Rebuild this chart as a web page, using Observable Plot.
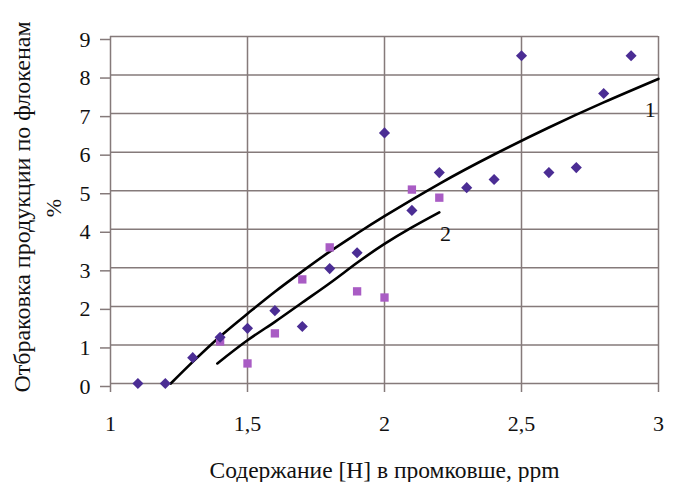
<!DOCTYPE html>
<html>
<head>
<meta charset="utf-8">
<script src="https://cdn.jsdelivr.net/npm/d3@7"></script>
<script src="https://cdn.jsdelivr.net/npm/@observablehq/plot@0.6"></script>
<style>
  html, body { margin: 0; padding: 0; background: #fff; }
  #chart { width: 677px; height: 482px; }
</style>
</head>
<body>
<div id="chart"></div>
<script>
// Series 1 (diamonds)
const s1X = [1.1, 1.2, 1.3, 1.4, 1.5, 1.6, 1.7, 1.8, 1.9, 2.0, 2.1, 2.2, 2.3, 2.4, 2.5, 2.6, 2.7, 2.8, 2.9];
const s1Y = [0, 0, 0.67, 1.2, 1.43, 1.89, 1.48, 2.98, 3.39, 6.5, 4.49, 5.47, 5.08, 5.29, 8.5, 5.47, 5.6, 7.52, 8.5];
// Series 2 (squares)
const s2X = [1.4, 1.5, 1.6, 1.7, 1.8, 1.9, 2.0, 2.1, 2.2];
const s2Y = [1.09, 0.52, 1.3, 2.7, 3.53, 2.39, 2.23, 5.03, 4.82];
// Trend curve 1
const c1X = [1.22, 1.3, 1.4, 1.5, 1.6, 1.7, 1.8, 1.9, 2.0, 2.2, 2.4, 2.6, 2.8, 3.0];
const c1Y = [0, 0.56, 1.22, 1.81, 2.38, 2.91, 3.42, 3.89, 4.34, 5.18, 5.94, 6.64, 7.29, 7.9];
// Trend curve 2
const c2X = [1.39, 1.5, 1.6, 1.7, 1.8, 1.9, 2.0, 2.1, 2.2];
const c2Y = [0.52, 1.12, 1.6, 2.1, 2.6, 3.13, 3.62, 4.05, 4.44];
// Curve labels
const labelText = ["1", "2"];
const labelX = [2.97, 2.223];
const labelY = [7.1, 3.89];
// Axes
const xTicks = [1, 1.5, 2, 2.5, 3];
const xTickLabels = ["1", "1,5", "2", "2,5", "3"];
const yTicks = [0, 1, 2, 3, 4, 5, 6, 7, 8, 9];
const xTitle = "Содержание [H] в промковше, ppm";
const yTitle1 = "Отбраковка продукции по флокенам";
const yTitle2 = "%";

const s1 = s1X.map((x, i) => ({x, y: s1Y[i]}));
const s2 = s2X.map((x, i) => ({x, y: s2Y[i]}));
const c1 = c1X.map((x, i) => ({x, y: c1Y[i]}));
const c2 = c2X.map((x, i) => ({x, y: c2Y[i]}));
const labels = labelText.map((t, i) => ({t, x: labelX[i], y: labelY[i]}));

const gridColor = "#857a7a";

const chart = Plot.plot({
  width: 677,
  height: 482,
  marginLeft: 110,
  marginRight: 19,
  marginTop: 36,
  marginBottom: 99,
  style: {fontFamily: "'Liberation Serif', 'Times New Roman', serif", fontSize: "22px", background: "#fff", color: "#111"},
  x: {domain: [1, 3]},
  y: {domain: [0, 9]},
  marks: [
    Plot.ruleY(yTicks, {stroke: gridColor, strokeWidth: 1.5}),
    Plot.ruleX(xTicks, {stroke: gridColor, strokeWidth: 1.5}),
    Plot.axisX({ticks: xTicks, tickFormat: (d) => xTickLabels[xTicks.indexOf(d)], tickSize: 9, tickPadding: 23, label: null, stroke: gridColor, strokeWidth: 1.5, fill: "#111"}),
    Plot.axisY({ticks: yTicks, tickSize: 10, tickPadding: 10, dy: 3, label: null, stroke: gridColor, strokeWidth: 1.5, fill: "#111"}),
    Plot.line(c1, {x: "x", y: "y", stroke: "#000", strokeWidth: 2.6, curve: "natural"}),
    Plot.line(c2, {x: "x", y: "y", stroke: "#000", strokeWidth: 2.6, curve: "natural"}),
    Plot.dot(s2, {x: "x", y: "y", symbol: "square", r: 4.7, fill: "#a95cc4", stroke: "none"}),
    Plot.dot(s1, {x: "x", y: "y", symbol: "diamond2", r: 5, fill: "#4b2d94", stroke: "none"}),
    Plot.text(labels, {x: "x", y: "y", text: "t", fontSize: 22, fill: "#111"}),
    Plot.text([yTitle1], {text: (d) => d, frameAnchor: "left", textAnchor: "middle", lineAnchor: "middle", dx: -88, dy: -3, rotate: -90, fontSize: 24, fill: "#111"}),
    Plot.text([yTitle2], {text: (d) => d, frameAnchor: "left", textAnchor: "middle", lineAnchor: "middle", dx: -57, dy: -2, rotate: -90, fontSize: 22, fill: "#111"}),
    Plot.text([xTitle], {text: (d) => d, frameAnchor: "bottom", textAnchor: "middle", lineAnchor: "middle", dy: 87, fontSize: 23.5, fill: "#111"})
  ]
});
document.getElementById("chart").appendChild(chart);
</script>
</body>
</html>
